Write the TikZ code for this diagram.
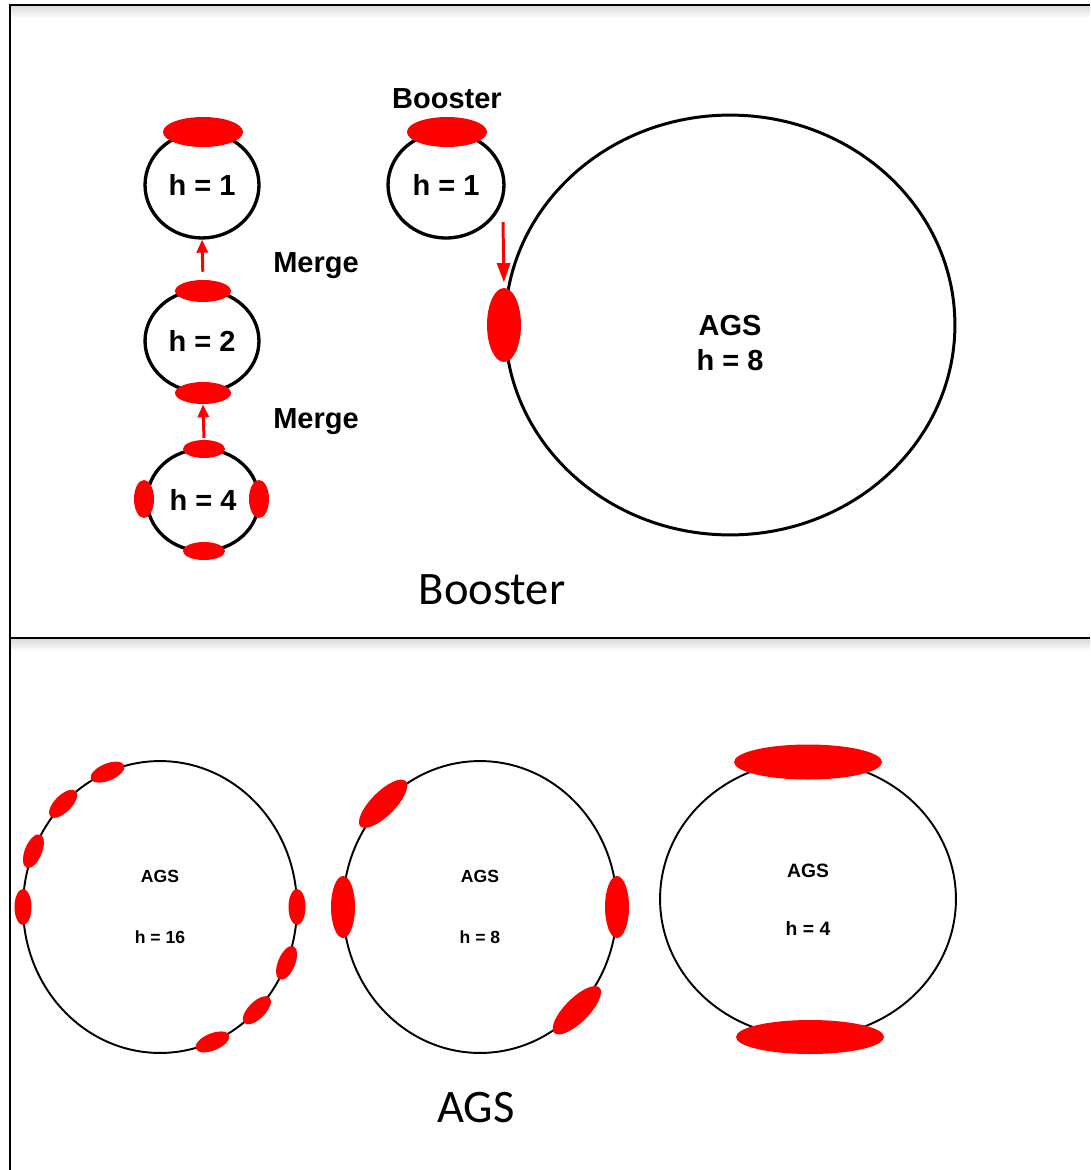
\documentclass[tikz,border=0pt]{standalone}
\usepackage{fontspec}
\setmainfont{Liberation Sans}
\newfontfamily\labfont{Liberation Sans}
\newfontfamily\capfont{Carlito}
\usetikzlibrary{shapes.geometric,arrows.meta}
\definecolor{beamred}{RGB}{255,0,0}

\begin{document}
\begin{tikzpicture}[x=0.02cm,y=-0.02cm,
  % ring with semi-axes given in pixel units
  ring/.style n args={2}{draw=black, ellipse, inner sep=0pt,
      minimum width=#1*0.04cm, minimum height=#2*0.04cm},
  thick ring/.style={line width=1.9pt},
  thin ring/.style={line width=1.1pt},
  % bunch of particles, semi-axes in pixel units
  bunch/.style n args={2}{fill=beamred, draw=none, ellipse, inner sep=0pt,
      minimum width=#1*0.04cm, minimum height=#2*0.04cm},
  lbl/.style={font=\labfont\bfseries\fontsize{16.5}{20}\selectfont, inner sep=0pt, align=center},
  slbl/.style={font=\labfont\bfseries\fontsize{10}{12}\selectfont, inner sep=0pt},
  mlbl/.style={font=\labfont\bfseries\fontsize{11}{13}\selectfont, inner sep=0pt},
  caption/.style={font=\capfont\fontsize{26.5}{32}\selectfont, inner sep=0pt},
  merge arrow/.style={draw=beamred, line width=1.7pt, -{Triangle[length=7.4pt,width=6.3pt]}},
  inject arrow/.style={draw=beamred, line width=1.7pt, -{Triangle[length=11pt,width=7.4pt]}},
  frame/.style={line width=1.1pt, draw=black},
]
\useasboundingbox (0,0) rectangle (1090,1170);

% panel frame with soft shadows under the horizontal rules
\shade[top color=black!14, bottom color=white, draw=none] (11,6) rectangle (1090,18);
\shade[top color=black!14, bottom color=white, draw=none] (11,639) rectangle (1090,651);
\draw[frame] (10,1170) -- (10,5) -- (1090,5);
\draw[frame] (10,638) -- (1090,638);

% ---------- Booster: merge sequence ----------
\node[ring={57}{53}, thick ring, lbl] (r1) at (202,185) {h = 1};
\node[bunch={40}{15}] (b1) at (203,132) {};

\node[ring={57}{51}, thick ring, lbl] (r2) at (202,341) {h = 2};
\node[bunch={28}{11}] (b2t) at (203,291) {};
\node[bunch={28}{11}] (b2b) at (203,393) {};

\node[ring={56}{51}, thick ring, lbl] (r4) at (203,500) {h = 4};
\node[bunch={21}{9}] (b4t) at (204,449) {};
\node[bunch={21}{9}] (b4b) at (204,551) {};
\node[bunch={10}{19}] (b4l) at (144,499) {};
\node[bunch={10}{19}] (b4r) at (259,499) {};

\draw[merge arrow, shorten <=4.5pt] (b2t.north) -- (r1.south);
\draw[merge arrow, shorten <=1pt] (b4t.north) -- (b2b.south);

\node[lbl] (m1) at (316,266) {Merge};
\node[lbl] (m2) at (316,422) {Merge};

% ---------- Booster to AGS transfer ----------
\node[lbl] (bname) at (447,99) {Booster};
\node[ring={58}{53}, thick ring, lbl] (rb) at (446,185) {h = 1};
\node[bunch={40}{15}] (bb) at (447,132) {};

\node[ring={225}{210}, line width=1.7pt] (ags) at (730,325) {};
\node[lbl] (agst) at (730,343) {AGS\\h = 8};
\node[bunch={17}{37}] (binj) at (504,325) {};
\coordinate (inj) at (503,222);
\draw[inject arrow, shorten >=3pt] (inj) -- (binj.north);

\node[caption] (capb) at (492,590) {Booster};

% ---------- AGS, h = 16 ----------
\node[ring={137}{146}, thin ring] (a16) at (160,907) {};
\begin{scope}[shift={(160,907)}]
  \foreach \t [count=\i] in {112.5,135,157.5,180,0,-22.5,-45,-67.5}
    \node[bunch={18}{8.5}, rotate=\t+90] (a16b\i) at ({137*cos(\t)},{-146*sin(\t)}) {};
\end{scope}
\node[slbl] (a16n) at (160,876) {AGS};
\node[slbl] (a16h) at (160,937) {h = 16};

% ---------- AGS, h = 8 ----------
\node[ring={137}{146}, thin ring] (a8) at (480,907) {};
\begin{scope}[shift={(480,907)}]
  \foreach \t/\a/\b [count=\i] in {180/31/12, 135/32/12, 0/31/12, -45/32/12}
    \node[bunch={\a}{\b}, rotate=\t+90] (a8b\i) at ({137*cos(\t)},{-146*sin(\t)}) {};
\end{scope}
\node[slbl] (a8n) at (480,876) {AGS};
\node[slbl] (a8h) at (480,937) {h = 8};

% ---------- AGS, h = 4 ----------
\node[ring={148}{138}, thin ring] (a4) at (808,899) {};
\node[bunch={74}{17.5}] (a4t) at (808,762) {};
\node[bunch={74}{17}] (a4b) at (810,1037) {};
\node[mlbl] (a4n) at (808,871) {AGS};
\node[mlbl] (a4h) at (808,928) {h = 4};

\node[caption] (capa) at (476,1108) {AGS};
\end{tikzpicture}
\end{document}
